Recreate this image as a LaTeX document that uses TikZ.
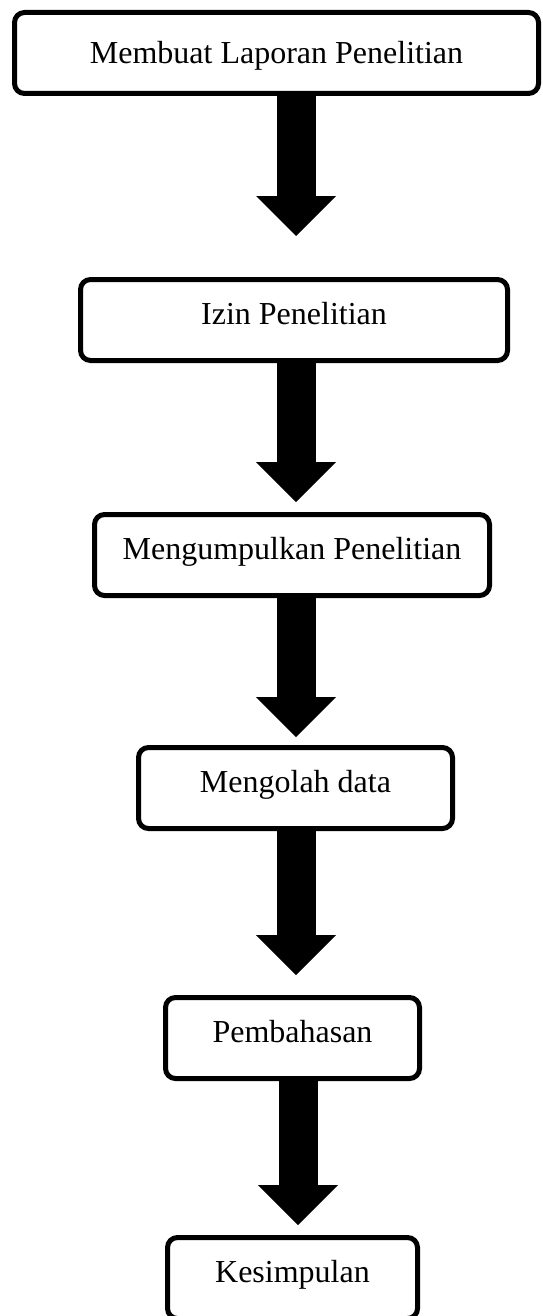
\documentclass[tikz,border=0pt]{standalone}
\usepackage{fontspec}
\setmainfont{Liberation Serif}
\usetikzlibrary{arrows.meta}

\begin{document}
\begin{tikzpicture}[x=1pt, y=-1pt,
  stepbox/.style={draw, line width=5pt, rounded corners=10pt, anchor=north,
    inner ysep=0pt, text height=45pt, text depth=36pt,
    font=\fontsize{32}{38}\selectfont},
  blk/.style={line width=39pt, -{Triangle[length=40pt, width=80pt, line width=0pt]}}
]
\useasboundingbox (0,0) rectangle (542,1316);
\node[stepbox, minimum width=524pt, text height=51pt, text depth=30pt] (lap) at (276.5,10) {Membuat Laporan Penelitian};
\node[stepbox, minimum width=427pt] (izin) at (294,277) {Izin Penelitian};
\node[stepbox, minimum width=395pt] (kumpul) at (292,512) {Mengumpulkan Penelitian};
\node[stepbox, minimum width=314pt] (olah) at (295.5,745) {Mengolah data};
\node[stepbox, minimum width=254pt] (bahas) at (292.5,995) {Pembahasan};
\node[stepbox, minimum width=250pt] (simpul) at (292.5,1235) {Kesimpulan};
\coordinate (t1) at (296,236);
\coordinate (t2) at (296,502);
\coordinate (t3) at (296,737);
\coordinate (t4) at (296,975);
\coordinate (t5) at (298,1225);
\draw[blk] (lap.south -| t1) -- (t1);
\draw[blk] (izin.south -| t2) -- (t2);
\draw[blk] (kumpul.south -| t3) -- (t3);
\draw[blk] (olah.south -| t4) -- (t4);
\draw[blk] (bahas.south -| t5) -- (t5);
\end{tikzpicture}
\end{document}
